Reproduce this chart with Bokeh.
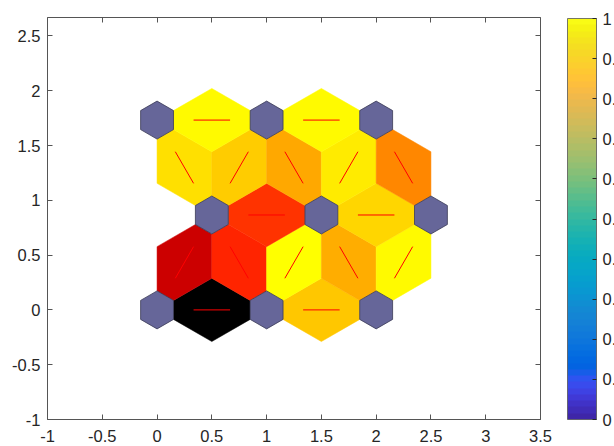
import math
from bokeh.plotting import figure
from bokeh.models import (Range1d, LinearAxis, FixedTicker, ColorBar, LinearColorMapper,
                          CustomLabelingPolicy)
from bokeh.embed import file_html
from bokeh.resources import INLINE

# ---------------- data ----------------
# neuron positions of a 3x3 hexagonal SOM topology
neuron_x = [0.0, 1.0, 2.0, 0.5, 1.5, 2.5, 0.0, 1.0, 2.0]
neuron_y = [0.0, 0.0, 0.0, 0.866, 0.866, 0.866, 1.732, 1.732, 1.732]

# neighbour pairs (indices into neuron lists) and their similarity level (1 = close, 0 = far)
edge_from = [0, 1, 0, 1, 1, 2, 2, 3, 4, 3, 3, 4, 4, 5, 6, 7]
edge_to   = [1, 2, 3, 3, 4, 4, 5, 4, 5, 6, 7, 7, 8, 8, 7, 8]
edge_level = [0.00, 0.89, 0.40, 0.57, 1.00, 0.84, 0.99, 0.60, 0.92,
              0.94, 0.90, 0.83, 0.96, 0.765, 0.99, 0.99]

x_ticks = [-1, -0.5, 0, 0.5, 1, 1.5, 2, 2.5, 3, 3.5]
x_tick_labels = ["-1", "-0.5", "0", "0.5", "1", "1.5", "2", "2.5", "3", "3.5"]
y_ticks = [-1, -0.5, 0, 0.5, 1, 1.5, 2, 2.5]
y_tick_labels = ["-1", "-0.5", "0", "0.5", "1", "1.5", "2", "2.5"]
cb_ticks = [0, 0.1, 0.2, 0.3, 0.4, 0.5, 0.6, 0.7, 0.8, 0.9, 1]
cb_tick_labels = ["0", "0.1", "0.2", "0.3", "0.4", "0.5", "0.6", "0.7", "0.8", "0.9", "1"]

# parula colormap (64 entries)
parula_rgb = [
(0.2422,0.1504,0.6603),(0.2470,0.1720,0.7200),(0.2500,0.1950,0.7800),(0.2520,0.2250,0.8400),
(0.2450,0.2600,0.8900),(0.2250,0.2950,0.9300),(0.1800,0.3300,0.9400),(0.0900,0.3650,0.9100),
(0.0117,0.3875,0.8820),(0.0060,0.4086,0.8828),(0.0165,0.4266,0.8786),(0.0329,0.4430,0.8720),
(0.0498,0.4586,0.8641),(0.0629,0.4737,0.8554),(0.0723,0.4887,0.8467),(0.0779,0.5040,0.8384),
(0.0793,0.5200,0.8312),(0.0749,0.5375,0.8263),(0.0641,0.5570,0.8240),(0.0488,0.5772,0.8228),
(0.0343,0.5966,0.8199),(0.0265,0.6137,0.8135),(0.0239,0.6287,0.8038),(0.0231,0.6418,0.7913),
(0.0228,0.6535,0.7768),(0.0267,0.6642,0.7607),(0.0384,0.6743,0.7436),(0.0590,0.6838,0.7254),
(0.0843,0.6928,0.7062),(0.1133,0.7015,0.6859),(0.1453,0.7098,0.6646),(0.1801,0.7177,0.6424),
(0.2178,0.7250,0.6193),(0.2586,0.7317,0.5954),(0.3022,0.7376,0.5712),(0.3482,0.7424,0.5473),
(0.3953,0.7459,0.5244),(0.4420,0.7481,0.5033),(0.4871,0.7491,0.4840),(0.5300,0.7491,0.4661),
(0.5709,0.7485,0.4494),(0.6099,0.7473,0.4337),(0.6473,0.7456,0.4188),(0.6834,0.7435,0.4044),
(0.7184,0.7411,0.3905),(0.7525,0.7384,0.3768),(0.7858,0.7356,0.3633),(0.8185,0.7327,0.3498),
(0.8507,0.7299,0.3360),(0.8824,0.7274,0.3217),(0.9139,0.7258,0.3063),(0.9450,0.7261,0.2886),
(0.9739,0.7314,0.2666),(0.9938,0.7455,0.2403),(0.9990,0.7653,0.2164),(0.9955,0.7861,0.1967),
(0.9880,0.8066,0.1794),(0.9789,0.8271,0.1633),(0.9697,0.8481,0.1475),(0.9626,0.8705,0.1309),
(0.9589,0.8949,0.1132),(0.9598,0.9218,0.0948),(0.9661,0.9514,0.0755),(0.9769,0.9839,0.0805)]
parula = ["#%02x%02x%02x" % tuple(int(round(c * 255)) for c in rgb) for rgb in parula_rgb]

# ---------------- geometry ----------------
R = 1 / math.sqrt(3)   # circumradius of a unit hex cell
S = 0.3                # neuron hexagon scale


def level_color(L):
    r = min(2 * L, 1.0)
    g = max(2 * L - 1, 0.0)
    return "#%02x%02x%02x" % (int(round(r * 255)), int(round(g * 255)), 0)


patch_xs, patch_ys, patch_cols = [], [], []
line_x0, line_y0, line_x1, line_y1 = [], [], [], []
for i, j, L in zip(edge_from, edge_to, edge_level):
    xi, yi, xj, yj = neuron_x[i], neuron_y[i], neuron_x[j], neuron_y[j]
    th = math.atan2(yj - yi, xj - xi)
    ax, ay = xi + R * math.cos(th + math.pi / 6), yi + R * math.sin(th + math.pi / 6)
    bx, by = xi + R * math.cos(th - math.pi / 6), yi + R * math.sin(th - math.pi / 6)
    px = [xi + S * (ax - xi), ax, xj + S * (ax - xj), xj + S * (bx - xj), bx, xi + S * (bx - xi)]
    py = [yi + S * (ay - yi), ay, yj + S * (ay - yj), yj + S * (by - yj), by, yi + S * (by - yi)]
    patch_xs.append(px)
    patch_ys.append(py)
    patch_cols.append(level_color(L))
    line_x0.append(xi + (xj - xi) / 3)
    line_y0.append(yi + (yj - yi) / 3)
    line_x1.append(xi + 2 * (xj - xi) / 3)
    line_y1.append(yi + 2 * (yj - yi) / 3)

hex_xs, hex_ys = [], []
for x, y in zip(neuron_x, neuron_y):
    hex_xs.append([x + S * R * math.cos(math.radians(30 + 60 * k)) for k in range(6)])
    hex_ys.append([y + S * R * math.sin(math.radians(30 + 60 * k)) for k in range(6)])

# ---------------- figure ----------------
p = figure(width=614, height=446, x_range=Range1d(-1, 3.5), y_range=Range1d(-1, 2.668),
           output_backend="svg", toolbar_location=None,
           min_border_left=47, min_border_right=74, min_border_top=17, min_border_bottom=27)
p.grid.visible = False
p.outline_line_color = None
p.background_fill_color = "white"

AX = "#262626"
AXL = "#555555"
FONT = "Liberation Sans"
FS = "16.5px"

no_labels = CustomLabelingPolicy(code="for (const i of indices) indices.unset(i)")


def style_axis(ax, ticks, labels, show_labels=True):
    ax.ticker = FixedTicker(ticks=ticks)
    ax.minor_tick_line_color = None
    ax.major_tick_in = 5
    ax.major_tick_out = 0
    ax.axis_line_color = AXL
    ax.major_tick_line_color = AXL
    ax.axis_line_width = 1
    ax.major_label_text_font = FONT
    ax.major_label_text_color = AX
    if show_labels:
        ax.major_label_overrides = {t: l for t, l in zip(ticks, labels)}
        ax.major_label_text_font_size = FS
    else:
        ax.major_label_policy = no_labels
        ax.major_label_text_font_size = "1px"
        ax.major_label_standoff = 0


style_axis(p.xaxis[0], x_ticks, x_tick_labels)
p.xaxis[0].major_label_standoff = 10
style_axis(p.yaxis[0], y_ticks, y_tick_labels)
p.yaxis[0].major_label_standoff = 7

top_ax = LinearAxis()
style_axis(top_ax, x_ticks, x_tick_labels, show_labels=False)
p.add_layout(top_ax, "above")
right_ax = LinearAxis()
style_axis(right_ax, y_ticks, y_tick_labels, show_labels=False)
p.add_layout(right_ax, "right")

p.patches(patch_xs, patch_ys, fill_color=patch_cols, line_color=patch_cols, line_width=0.5)
p.patches(hex_xs, hex_ys, fill_color="#666699", line_color="#3a3a55", line_width=0.8)
p.segment(line_x0, line_y0, line_x1, line_y1, line_color="#ff0000", line_width=1)

mapper = LinearColorMapper(palette=parula, low=0, high=1)
cb = ColorBar(color_mapper=mapper, ticker=FixedTicker(ticks=cb_ticks),
              major_label_overrides={t: l for t, l in zip(cb_ticks, cb_tick_labels)},
              width=29, height=401, location=(520, 0), padding=0, margin=0,
              background_fill_alpha=0, border_line_color=None,
              bar_line_color=AXL, bar_line_width=0.8,
              major_tick_in=4, major_tick_out=0, major_tick_line_color=AX,
              minor_tick_line_color=None, label_standoff=6,
              major_label_text_font=FONT, major_label_text_font_size=FS,
              major_label_text_color=AX)
p.add_layout(cb, "center")

open("out.html", "w").write(file_html(p, INLINE))
